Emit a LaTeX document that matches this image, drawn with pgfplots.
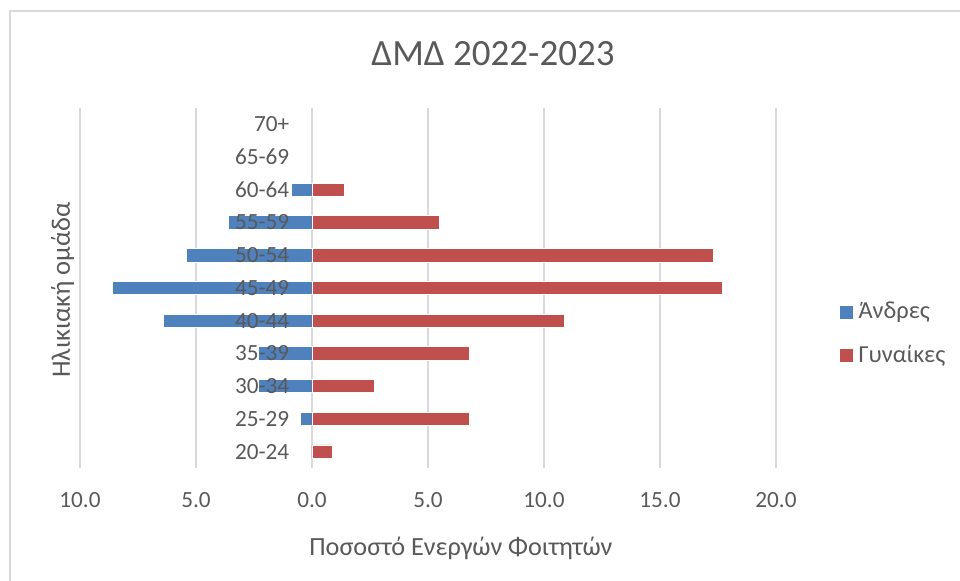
\documentclass[border=0pt]{standalone}
\usepackage{pgfplots}
\pgfplotsset{compat=1.18}
\usepackage{fontspec}
\setmainfont{Carlito}
\definecolor{men}{HTML}{4F81BD}
\definecolor{women}{HTML}{C0504D}
\definecolor{txt}{HTML}{595959}
\definecolor{grd}{HTML}{D9D9D9}
\begin{document}
\begin{tikzpicture}
\draw[grd, line width=1pt] (5pt,-20pt) -- (5pt,284.5pt) -- (520pt,284.5pt);
\begin{axis}[
  at={(40pt,56pt)}, anchor=south west,
  width=348pt, height=180pt, scale only axis,
  xmin=-10, xmax=20, ymin=-0.5, ymax=10.5,
  xtick={-10,-5,0,5,10,15,20},
  xticklabels={10.0,5.0,0.0,5.0,10.0,15.0,20.0},
  ytick=\empty,
  xmajorgrids, ymajorgrids=false,
  grid style={grd, line width=1pt},
  axis line style={draw=none},
  major tick length=0pt,
  tick style={draw=none},
  /pgf/number format/assume math mode=true,
  ticklabel style={font=\fontsize{11.6}{14}\selectfont, text=txt},
  xticklabel style={anchor=base, inner sep=0pt, yshift=-19.5pt},
  title={ΔΜΔ 2022-2023},
  title style={at={(axis description cs:0.5934,1.0861)}, anchor=base, yshift=0pt, inner sep=0pt, font=\fontsize{18.5}{22}\selectfont, text=txt},
  xlabel={Ποσοστό Ενεργών Φοιτητών},
  xlabel style={at={(axis description cs:0.5474,-0.2417)}, anchor=base, inner sep=0pt, font=\fontsize{13.1}{16}\selectfont, text=txt},
  ylabel={Ηλικιακή ομάδα},
  ylabel style={at={(axis description cs:-0.0251,0.494)}, anchor=center, inner sep=0pt, font=\fontsize{13.3}{16}\selectfont, text=txt},
  legend style={at={(axis description cs:1.0905,0.372)}, anchor=west, draw=none, fill=none, inner sep=0pt,
    font=\fontsize{12.2}{14}\selectfont, text=txt, row sep=12pt, nodes={inner sep=0pt},
    /tikz/every odd column/.append style={column sep=2.2pt}},
  legend cell align=left,
  legend image code/.code={\fill[#1] (0pt,-3.5pt) rectangle (7pt,3.5pt);},
]
\addplot[xbar, bar width=6.7pt, bar shift=0pt, fill=men, draw=white, line width=0.4pt]
  coordinates {(-0.5,1) (-2.3,2) (-2.3,3) (-6.4,4) (-8.6,5) (-5.4,6) (-3.6,7) (-0.9,8)};
\addplot[xbar, bar width=6.7pt, bar shift=0pt, fill=women, draw=white, line width=0.4pt]
  coordinates {(0.9,0) (6.8,1) (2.7,2) (6.8,3) (10.9,4) (17.7,5) (17.3,6) (5.5,7) (1.4,8)};
\legend{Άνδρες, Γυναίκες}
\addplot[draw=none, mark=none, forget plot, nodes near coords, point meta=explicit symbolic,
  nodes near coords style={anchor=east, inner sep=0pt, xshift=-11.2pt, font=\fontsize{11.6}{14}\selectfont, text=txt}]
  table[meta=lab, row sep=\\] {
  x y lab\\
  0 0 20-24\\
  0 1 25-29\\
  0 2 30-34\\
  0 3 35-39\\
  0 4 40-44\\
  0 5 45-49\\
  0 6 50-54\\
  0 7 55-59\\
  0 8 60-64\\
  0 9 65-69\\
  0 10 70+\\
  };
\end{axis}
\pgfresetboundingbox
\path[use as bounding box] (0,0) rectangle (480pt,290pt);
\end{tikzpicture}
\end{document}
